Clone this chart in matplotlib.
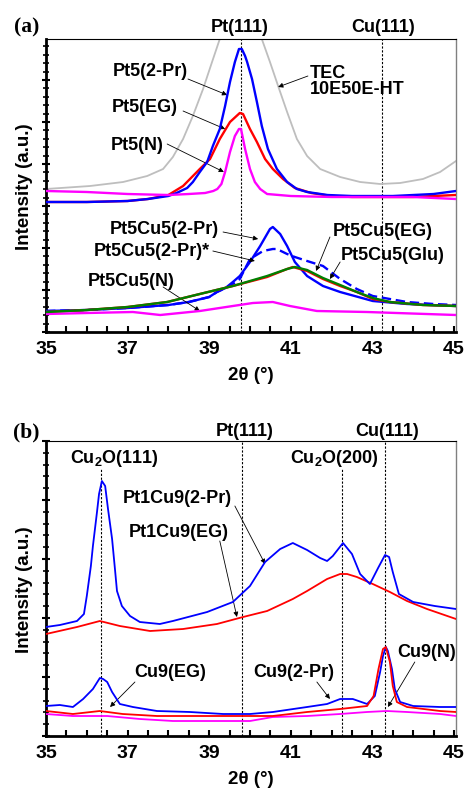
import matplotlib
matplotlib.use("Agg")
import matplotlib.pyplot as plt
from matplotlib.ticker import MultipleLocator, NullFormatter
import matplotlib.transforms as mtransforms

plt.rcParams['font.family'] = ['Liberation Sans', 'DejaVu Sans']
plt.rcParams['font.weight'] = 'bold'
plt.rcParams['mathtext.fontset'] = 'custom'
plt.rcParams['mathtext.rm'] = 'Liberation Sans:bold'
plt.rcParams['mathtext.bf'] = 'Liberation Sans:bold'
plt.rcParams['mathtext.it'] = 'Liberation Sans:bold'

# ---------------- Panel (a) data ----------------
a_tec_x = [35.0, 36.08, 36.89, 37.48, 37.87, 38.11, 38.36, 38.60, 38.85, 39.07, 39.26, 39.5, 39.8, 40.05,
           40.29, 40.49, 40.69, 40.91, 41.15, 41.40, 41.72, 42.21, 42.70, 43.19, 43.68, 44.24, 44.66, 45.05]
a_tec_y = [143, 146, 150, 156, 163, 175, 193, 216, 243, 270, 293, 330, 360, 330,
           293, 270, 246, 220, 193, 176, 163, 155, 150, 148, 149, 153, 160, 171]

a_pt5_2pr_x = [35.0, 36.0, 37.0, 37.5, 38.0, 38.2, 38.46, 38.6, 38.77, 38.95, 39.09, 39.26, 39.39, 39.51,
               39.63, 39.73, 39.8, 39.88, 39.93, 40.05, 40.17, 40.29, 40.44, 40.66, 40.91, 41.15, 41.4,
               41.9, 42.5, 43.0, 43.5, 44.0, 44.5, 45.05]
a_pt5_2pr_y = [130, 130, 131, 133, 136, 139, 144, 150, 160, 170, 186, 203, 226, 250,
               270, 283, 283, 276, 270, 253, 230, 206, 183, 163, 150, 143, 140,
               137, 136, 136, 136, 137, 138, 141]

a_pt5_eg_x = [35.0, 36.0, 37.0, 37.5, 38.0, 38.36, 38.77, 39.02, 39.26, 39.51, 39.75, 39.83, 40.0, 40.17,
              40.37, 40.56, 40.81, 41.1, 41.5, 42.0, 42.5, 43.0, 43.5, 44.0, 44.5, 45.05]
a_pt5_eg_y = [130, 130, 131, 133, 137, 146, 163, 173, 193, 210, 219, 218, 203, 190,
              173, 163, 153, 144, 139, 136, 135, 135, 135, 135, 136, 137]

a_pt5_n_x = [35.0, 36.0, 37.0, 38.0, 38.5, 38.9, 39.1, 39.2, 39.3, 39.39, 39.51, 39.63, 39.73, 39.78,
             39.88, 40.0, 40.12, 40.25, 40.42, 41.0, 42.0, 43.0, 44.0, 45.05]
a_pt5_n_y = [141, 140, 138, 137, 138, 139, 141, 143, 148, 160, 180, 196, 203, 203,
             183, 163, 150, 143, 138, 136, 135, 135, 135, 133]

a_cu_2pr_x = [35.0, 36.0, 37.0, 38.0, 38.5, 39.0, 39.19, 39.4, 39.58, 39.75, 40.0, 40.25, 40.49, 40.56,
              40.74, 40.91, 41.1, 41.4, 41.79, 42.21, 43.01, 43.85, 45.05]
a_cu_2pr_y = [21, 22, 24, 27, 30, 35, 40, 44, 50, 56, 70, 86, 103, 105,
              98, 86, 70, 56, 46, 40, 31, 28, 26]

a_cu_2prs_x = [35.0, 36.0, 37.0, 38.0, 38.5, 39.0, 39.19, 39.4, 39.58, 39.75, 40.0, 40.32, 40.56, 40.66,
               40.91, 41.1, 41.4, 41.79, 42.21, 42.62, 43.01, 43.85, 44.5, 45.05]
a_cu_2prs_y = [21, 22, 24, 27, 30, 35, 40, 44, 48, 53, 73, 81, 83, 83,
               78, 75, 71, 66, 53, 43, 36, 30, 28, 27]

a_cu_eg_x = [35.0, 36.0, 37.0, 37.97, 38.77, 39.58, 40.42, 40.91, 41.05, 41.4, 41.79, 42.21, 42.62, 43.01,
             43.43, 44.24, 45.05]
a_cu_eg_y = [20, 22, 25, 30, 38, 46, 55, 63, 65, 61, 53, 46, 40, 33, 30, 27, 26]

a_cu_glu_x = [35.0, 36.0, 37.0, 37.97, 38.77, 39.58, 40.42, 40.91, 41.1, 41.4, 41.79, 42.21, 42.62, 43.01,
              43.43, 44.24, 45.05]
a_cu_glu_y = [20, 22, 25, 30, 38, 46, 56, 63, 65, 62, 54, 47, 40, 34, 30, 27, 26]

a_cu_n_x = [35.0, 36.0, 37.13, 37.8, 38.77, 39.58, 40.07, 40.56, 40.98, 41.64, 42.87, 45.05]
a_cu_n_y = [18, 19, 20, 17, 21, 26, 29, 30, 26, 21, 20, 17]

# ---------------- Panel (b) data ----------------
b_pt1_2pr_x = [35.0, 35.34, 35.76, 35.93, 36.0, 36.05, 36.1, 36.15, 36.25, 36.3, 36.37, 36.45, 36.52, 36.62,
               36.69, 36.74, 36.86, 37.06, 37.3, 37.79, 38.11, 38.95, 39.58, 40.0, 40.37, 40.74, 41.05,
               41.4, 41.72, 41.89, 42.03, 42.28, 42.5, 42.7, 42.94, 43.14, 43.31, 43.41, 43.5, 43.65,
               44.0, 44.53, 45.05]
b_pt1_2pr_y = [109, 111, 115, 122, 140, 155, 170, 190, 224, 242, 255, 250, 227, 197,
               167, 145, 130, 120, 114, 112, 115, 124, 134, 150, 174, 187, 193,
               186, 178, 175, 180, 193, 182, 162, 152, 168, 181, 179, 164, 142,
               134, 130, 127]

b_pt1_eg_x = [35.0, 35.76, 36.32, 36.81, 37.55, 38.36, 39.19, 39.83, 40.42, 41.05, 41.4, 41.89, 42.21,
              42.38, 42.62, 43.01, 43.43, 43.85, 44.34, 45.05]
b_pt1_eg_y = [102, 109, 115, 110, 105, 107, 112, 119, 125, 137, 145, 157, 162,
              162, 159, 152, 144, 135, 127, 117]

b_cu9_2pr_x = [35.0, 35.34, 35.66, 35.91, 36.15, 36.32, 36.4, 36.5, 36.62, 36.81, 37.13, 37.72, 38.53,
               39.34, 40.0, 40.56, 41.4, 41.89, 42.21, 42.52, 42.87, 43.06, 43.19, 43.26, 43.33, 43.38,
               43.48, 43.55, 43.68, 44.0, 44.66, 45.05]
b_cu9_2pr_y = [30, 31, 29, 37, 47, 58, 57, 54, 44, 32, 29, 25, 24,
               22, 22, 24, 29, 32, 37, 37, 32, 40, 64, 80, 89, 85,
               67, 47, 34, 30, 29, 29]

b_cu9_eg_x = [35.0, 35.66, 36.32, 36.88, 37.72, 38.53, 39.34, 40.0, 40.56, 41.4, 42.21, 42.87, 43.03,
              43.15, 43.26, 43.33, 43.43, 43.5, 43.6, 43.85, 44.66, 45.05]
b_cu9_eg_y = [25, 22, 25, 22, 20, 20, 20, 20, 20, 24, 27, 30, 40,
              67, 87, 89, 74, 50, 34, 29, 25, 24]

b_cu9_n_x = [35.0, 35.66, 36.5, 37.3, 38.11, 39.34, 40.0, 40.56, 41.4, 42.21, 42.87, 43.35, 43.85,
             44.66, 45.05]
b_cu9_n_y = [22, 20, 20, 17, 15, 15, 15, 19, 20, 22, 24, 25, 24, 22, 20]

# reference peak positions
a_refs = [39.77, 43.24]
b_refs_full = [39.8, 43.3]
b_refs_cu2o = [36.35, 42.25]

BLUE, RED, MAG, GREEN, GRAY = '#0000FF', '#FF0000', '#FF00FF', '#008000', '#BEBEBE'

W, H = 466, 804
fig = plt.figure(figsize=(W / 100, H / 100), dpi=100)


def make_axes(left, right, top, bottom):
    return fig.add_axes([left / W, 1 - bottom / H, (right - left) / W, (bottom - top) / H])


axa = make_axes(46, 456, 40, 333)
axb = make_axes(46, 456, 442, 737)


def style(ax, ymax, ymajor):
    ax.set_xlim(35, 45.05)
    ax.set_ylim(0, ymax)
    ax.xaxis.set_major_locator(MultipleLocator(2, offset=1))
    ax.xaxis.set_minor_locator(MultipleLocator(0.5))
    ax.yaxis.set_major_locator(MultipleLocator(ymajor))
    ax.yaxis.set_minor_locator(MultipleLocator(ymajor / 5))
    ax.yaxis.set_major_formatter(NullFormatter())
    ax.tick_params(axis='x', which='both', direction='in', length=4, width=1.5, labelsize=14, pad=6)
    ax.tick_params(axis='y', which='major', direction='inout', length=6, width=1.5)
    ax.tick_params(axis='y', which='minor', direction='inout', length=4, width=1.2)
    for lab in ax.get_xticklabels():
        lab.set_fontweight('bold')
    ax.spines['left'].set_linewidth(2.0)
    ax.spines['bottom'].set_linewidth(2.0)
    ax.spines['top'].set_linewidth(0.8)
    ax.spines['right'].set_linewidth(1.0)
    ax.spines['right'].set_color('#808080')
    ax.set_xlabel('2θ (°)', fontsize=13.5, fontweight='bold', labelpad=6)
    ax.set_ylabel('Intensity (a.u.)', fontsize=13.5, fontweight='bold')
    ax.yaxis.set_label_coords(-0.032, 0.5)


style(axa, 293, 42)
style(axb, 295, 59)

arrow_kw = dict(arrowstyle='-|>', color='black', lw=0.6, mutation_scale=7, shrinkA=0, shrinkB=0)
txt_kw = dict(fontsize=13, fontweight='bold', ha='center', va='center')

# ---- panel a ----
for xv in a_refs:
    axa.axvline(xv, color='black', lw=0.8, ls=(0, (2, 1.5)), zorder=1)
axa.plot(a_tec_x, a_tec_y, color=GRAY, lw=1.3, zorder=2)
axa.plot(a_pt5_eg_x, a_pt5_eg_y, color=RED, lw=1.7, zorder=3)
axa.plot(a_pt5_2pr_x, a_pt5_2pr_y, color=BLUE, lw=1.7, zorder=4)
axa.plot(a_pt5_n_x, a_pt5_n_y, color=MAG, lw=1.7, zorder=5)
axa.plot(a_cu_2prs_x, a_cu_2prs_y, color=BLUE, lw=1.7, ls=(0, (4, 2)), zorder=3)
axa.plot(a_cu_2pr_x, a_cu_2pr_y, color=BLUE, lw=1.7, zorder=3)
axa.plot(a_cu_eg_x, a_cu_eg_y, color=RED, lw=1.7, zorder=4)
axa.plot(a_cu_glu_x, a_cu_glu_y, color=GREEN, lw=1.7, zorder=5)
axa.plot(a_cu_n_x, a_cu_n_y, color=MAG, lw=1.7, zorder=4)

labels_a = [
    ('Pt5(2-Pr)', (37.55, 261), (38.48, 253), (39.44, 237)),
    ('Pt5(EG)', (37.43, 225), (38.36, 221), (39.39, 203)),
    ('Pt5(N)', (37.23, 188), (37.97, 188), (39.36, 160)),
    ('Pt5Cu5(2-Pr)', (37.9, 104), (39.34, 100), (40.2, 93)),
    ('Pt5Cu5(2-Pr)*', (37.59, 81), (39.09, 81), (40.12, 71)),
    ('Pt5Cu5(N)', (37.08, 52), (37.87, 45), (38.77, 21)),
    ('Pt5Cu5(EG)', (43.25, 101), (41.96, 95), (41.62, 61)),
    ('Pt5Cu5(Glu)', (43.49, 77), (42.21, 70), (41.96, 53)),
]
for text, pos, tail, head in labels_a:
    axa.text(pos[0], pos[1], text, **txt_kw)
    axa.annotate('', xy=head, xytext=tail, arrowprops=arrow_kw)
axa.text(41.47, 251.5, 'TEC\n10E50E-HT', fontsize=13, fontweight='bold', ha='left', va='center',
         linespacing=0.95)
axa.annotate('', xy=(40.69, 245), xytext=(41.42, 256), arrowprops=arrow_kw)

trans_a = mtransforms.blended_transform_factory(axa.transData, axa.transAxes)
axa.text(39.75, 1.044, 'Pt(111)', transform=trans_a, **txt_kw)
axa.text(43.26, 1.044, 'Cu(111)', transform=trans_a, **txt_kw)
fig.text(26.5 / W, 1 - 27 / H, '(a)', fontsize=15.5, fontweight='bold', ha='center', va='center',
         family=['Liberation Serif', 'DejaVu Serif'])

# ---- panel b ----
for xv in b_refs_full:
    axb.axvline(xv, color='black', lw=0.8, ls=(0, (2, 1.5)), zorder=1)
for xv in b_refs_cu2o:
    axb.plot([xv, xv], [0, 267], color='black', lw=0.8, ls=(0, (2, 1.5)), zorder=1)
axb.plot(b_pt1_eg_x, b_pt1_eg_y, color=RED, lw=1.3, zorder=3)
axb.plot(b_pt1_2pr_x, b_pt1_2pr_y, color=BLUE, lw=1.3, zorder=4)
axb.plot(b_cu9_n_x, b_cu9_n_y, color=MAG, lw=1.3, zorder=3)
axb.plot(b_cu9_2pr_x, b_cu9_2pr_y, color=BLUE, lw=1.3, zorder=4)
axb.plot(b_cu9_eg_x, b_cu9_eg_y, color=RED, lw=1.3, zorder=5)

labels_b = [
    ('Pt1Cu9(2-Pr)', (38.22, 238), (39.63, 230), (40.37, 172)),
    ('Pt1Cu9(EG)', (38.26, 204), (39.26, 195), (39.68, 119)),
    ('Cu9(EG)', (38.04, 64), (37.18, 54), (36.57, 29)),
    ('Cu9(2-Pr)', (41.08, 64), (41.64, 54), (41.96, 37)),
    ('Cu9(N)', (44.34, 84), (44.04, 74), (43.38, 29)),
]
for text, pos, tail, head in labels_b:
    axb.text(pos[0], pos[1], text, **txt_kw)
    axb.annotate('', xy=head, xytext=tail, arrowprops=arrow_kw)
axb.text(36.67, 278, 'Cu$_{2}$O(111)', **txt_kw)
axb.text(42.06, 278, 'Cu$_{2}$O(200)', **txt_kw)

trans_b = mtransforms.blended_transform_factory(axb.transData, axb.transAxes)
axb.text(39.88, 1.034, 'Pt(111)', transform=trans_b, **txt_kw)
axb.text(43.36, 1.034, 'Cu(111)', transform=trans_b, **txt_kw)
fig.text(26.5 / W, 1 - 432 / H, '(b)', fontsize=15.5, fontweight='bold', ha='center', va='center',
         family=['Liberation Serif', 'DejaVu Serif'])

fig.savefig('out.png', dpi=100)
